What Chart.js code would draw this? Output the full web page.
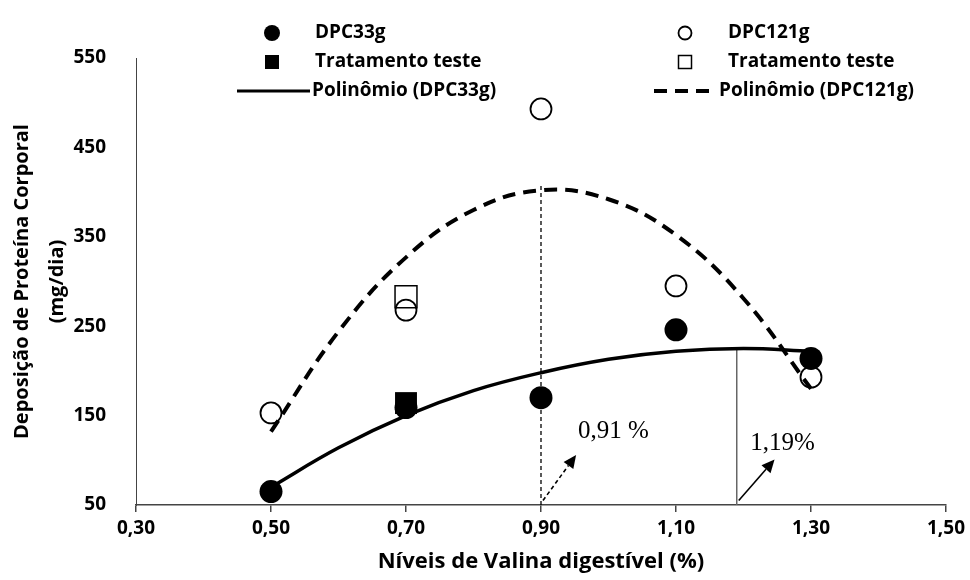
<!DOCTYPE html>
<html>
<head>
<meta charset="utf-8">
<script src="https://cdn.jsdelivr.net/npm/chart.js@4.4.0/dist/chart.umd.min.js"></script>
<style>
    html, body { margin: 0; padding: 0; background: #fff; }
    #wrap { width: 970px; height: 580px; }
</style>
</head>
<body>
<div id="wrap"><canvas id="valinaChart" width="970" height="580"></canvas></div>
<script>
// Níveis de valina digestível (%)
const niveis = [0.5, 0.7, 0.9, 1.1, 1.3];
const dpc33 = [65, 159, 170, 246, 214];
const dpc121 = [153, 268, 493, 295, 193];

// Tratamento teste (0,70 %)
const testeX = [0.7];
const teste33 = [164];
const teste121 = [283];

// Linhas de tendência
const polyX = [0.5, 0.6, 0.7, 0.8, 0.9, 1.0, 1.1, 1.2, 1.3];
const poly33 = [70, 114, 150, 178, 198, 213, 222, 225, 222];
const poly121 = [132, 244, 327, 380, 402, 392, 352, 281, 180];

const xTicks = [0.3, 0.5, 0.7, 0.9, 1.1, 1.3, 1.5];
const yTicks = [50, 150, 250, 350, 450, 550];

// Níveis ótimos: linha vertical, seta e rótulo
const otimoX = [0.9, 1.19];
const otimoTopo = [407, 226];
const setaFim = [[0.952, 106], [1.246, 101]];
const otimoTexto = ['0,91 %', '1,19%'];
const textoPos = [[0.955, 132], [1.21, 119]];

const FONT = '"Open Sans", "DejaVu Sans", sans-serif';

function pts(xs, ys) {
    return xs.map((v, i) => ({x: v, y: ys[i]}));
}

function drawArrow(ctx, x0, y0, x1, y1, dash) {
    const ang = Math.atan2(y1 - y0, x1 - x0);
    const head = 13;
    const half = 6;
    const bx = x1 - head * Math.cos(ang);
    const by = y1 - head * Math.sin(ang);
    ctx.setLineDash(dash);
    ctx.beginPath();
    ctx.moveTo(x0, y0);
    ctx.lineTo(bx, by);
    ctx.stroke();
    ctx.setLineDash([]);
    ctx.beginPath();
    ctx.moveTo(x1, y1);
    ctx.lineTo(bx + half * Math.sin(ang), by - half * Math.cos(ang));
    ctx.lineTo(bx - half * Math.sin(ang), by + half * Math.cos(ang));
    ctx.closePath();
    ctx.fill();
}

const otimoPlugin = {
    id: 'otimo',
    beforeDatasetsDraw(chart) {
        const {ctx, scales: {x, y}} = chart;
        const base = y.getPixelForValue(50);
        ctx.save();
        // 0,91 - linha tracejada fina
        ctx.strokeStyle = '#000';
        ctx.lineWidth = 1.3;
        ctx.setLineDash([4, 3]);
        ctx.beginPath();
        ctx.moveTo(x.getPixelForValue(otimoX[0]), base);
        ctx.lineTo(x.getPixelForValue(otimoX[0]), y.getPixelForValue(otimoTopo[0]));
        ctx.stroke();
        // 1,19 - linha cinza continua
        ctx.strokeStyle = '#666';
        ctx.lineWidth = 1.5;
        ctx.setLineDash([]);
        ctx.beginPath();
        ctx.moveTo(x.getPixelForValue(otimoX[1]), base);
        ctx.lineTo(x.getPixelForValue(otimoX[1]), y.getPixelForValue(otimoTopo[1]));
        ctx.stroke();
        ctx.restore();
    },
    afterDatasetsDraw(chart) {
        const {ctx, scales: {x, y}} = chart;
        ctx.save();
        ctx.strokeStyle = '#000';
        ctx.fillStyle = '#000';
        ctx.lineWidth = 1.6;
        for (let i = 0; i < otimoX.length; i++) {
            drawArrow(ctx,
                x.getPixelForValue(otimoX[i]) + 2, y.getPixelForValue(55),
                x.getPixelForValue(setaFim[i][0]), y.getPixelForValue(setaFim[i][1]),
                i === 0 ? [4, 3] : []);
        }
        ctx.font = '25px "Liberation Serif", "DejaVu Serif", serif';
        ctx.textAlign = 'left';
        ctx.textBaseline = 'middle';
        for (let i = 0; i < otimoTexto.length; i++) {
            ctx.fillText(otimoTexto[i], x.getPixelForValue(textoPos[i][0]), y.getPixelForValue(textoPos[i][1]));
        }
        ctx.restore();
    }
};

// Legenda em duas colunas, como no original
const legendaPlugin = {
    id: 'legenda',
    afterDraw(chart) {
        const ctx = chart.ctx;
        ctx.save();
        ctx.font = 'bold 19px ' + FONT;
        ctx.textBaseline = 'middle';
        ctx.textAlign = 'left';
        ctx.fillStyle = '#000';
        ctx.strokeStyle = '#000';

        // coluna esquerda
        ctx.beginPath();
        ctx.arc(272, 33, 8, 0, Math.PI * 2);
        ctx.fill();
        ctx.fillText('DPC33g', 315, 33);
        ctx.fillRect(265, 55, 14, 14);
        ctx.fillText('Tratamento teste', 315, 62);
        ctx.lineWidth = 3;
        ctx.beginPath();
        ctx.moveTo(237, 91);
        ctx.lineTo(310, 91);
        ctx.stroke();
        ctx.fillText('Polinômio (DPC33g)', 312, 91);

        // coluna direita
        ctx.lineWidth = 1.8;
        ctx.beginPath();
        ctx.arc(685, 33, 6.5, 0, Math.PI * 2);
        ctx.stroke();
        ctx.fillText('DPC121g', 728, 33);
        ctx.lineWidth = 1.5;
        ctx.strokeRect(678.5, 55.5, 13, 13);
        ctx.fillText('Tratamento teste', 728, 62);
        ctx.lineWidth = 4;
        ctx.setLineDash([13, 8]);
        ctx.beginPath();
        ctx.moveTo(654, 91);
        ctx.lineTo(717, 91);
        ctx.stroke();
        ctx.setLineDash([]);
        ctx.fillText('Polinômio (DPC121g)', 719, 91);
        ctx.restore();
    }
};

document.addEventListener('DOMContentLoaded', function() {
    const ctx = document.getElementById('valinaChart');

    new Chart(ctx, {
        type: 'scatter',
        data: {
            datasets: [{
                label: 'Tratamento teste',
                data: pts(testeX, teste33),
                pointStyle: 'rect',
                pointRadius: 15.5,
                backgroundColor: '#000',
                borderColor: '#000',
                borderWidth: 0
            }, {
                label: 'DPC33g',
                data: pts(niveis, dpc33),
                pointRadius: 11.5,
                backgroundColor: '#000',
                borderColor: '#000',
                borderWidth: 0
            }, {
                label: 'Tratamento teste',
                data: pts(testeX, teste121),
                pointStyle: 'rect',
                pointRadius: 15.5,
                backgroundColor: 'rgba(0,0,0,0)',
                borderColor: '#000',
                borderWidth: 1.5
            }, {
                label: 'DPC121g',
                data: pts(niveis, dpc121),
                pointRadius: 10.5,
                backgroundColor: 'rgba(0,0,0,0)',
                borderColor: '#000',
                borderWidth: 1.8
            }, {
                label: 'Polinômio (DPC33g)',
                data: pts(polyX, poly33),
                showLine: true,
                pointRadius: 0,
                borderColor: '#000',
                borderWidth: 3.5,
                tension: 0.4
            }, {
                label: 'Polinômio (DPC121g)',
                data: pts(polyX, poly121),
                showLine: true,
                pointRadius: 0,
                borderColor: '#000',
                borderWidth: 4,
                borderDash: [13, 8],
                tension: 0.4
            }]
        },
        options: {
            responsive: false,
            animation: false,
            devicePixelRatio: 1,
            layout: {
                padding: {top: 58, right: 20, left: 0, bottom: 0}
            },
            plugins: {
                legend: {display: false},
                tooltip: {enabled: false}
            },
            scales: {
                x: {
                    type: 'linear',
                    min: 0.3,
                    max: 1.5,
                    afterFit: function(scale) { scale.height = 75; },
                    afterBuildTicks: function(scale) {
                        scale.ticks = xTicks.map(v => ({value: v}));
                    },
                    grid: {
                        drawOnChartArea: false,
                        drawTicks: true,
                        tickLength: 7,
                        color: '#444',
                        lineWidth: 1.5
                    },
                    border: {display: true, color: '#444', width: 1.5},
                    ticks: {
                        padding: 5,
                        color: '#000',
                        font: {family: FONT, size: 19, weight: 'bold'},
                        callback: function(v) { return v.toFixed(2).replace('.', ','); }
                    },
                    title: {
                        display: true,
                        text: 'Níveis de Valina digestível (%)',
                        color: '#000',
                        font: {family: FONT, size: 22, weight: 'bold'},
                        padding: {top: 0, bottom: 5}
                    }
                },
                y: {
                    type: 'linear',
                    min: 50,
                    max: 550,
                    afterFit: function(scale) { scale.width = 136; },
                    afterBuildTicks: function(scale) {
                        scale.ticks = yTicks.map(v => ({value: v}));
                    },
                    grid: {display: false},
                    border: {display: true, color: '#444', width: 1},
                    ticks: {
                        padding: 22,
                        color: '#000',
                        font: {family: FONT, size: 19, weight: 'bold'}
                    },
                    title: {
                        display: true,
                        text: ['Deposição de Proteína Corporal', '(mg/dia)'],
                        color: '#000',
                        font: {family: FONT, size: 20, weight: 'bold', lineHeight: 1.75},
                        padding: {top: 5, bottom: 0}
                    }
                }
            }
        },
        plugins: [otimoPlugin, legendaPlugin]
    });
});
</script>
</body>
</html>
